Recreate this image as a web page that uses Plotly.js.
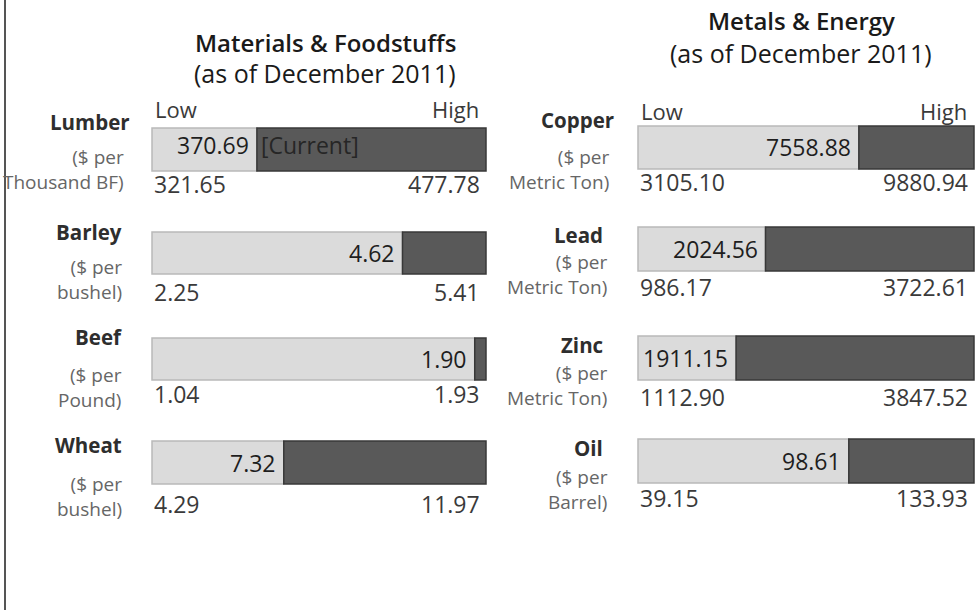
<!DOCTYPE html>
<html>
<head>
<meta charset="utf-8">
<script src="https://cdn.plot.ly/plotly-3.0.1.min.js"></script>
<style>html,body{margin:0;padding:0;background:#fff;}#chart{width:980px;height:610px;}</style>
</head>
<body>
<div id="chart"></div>
<script>
// ---------- DATA ----------
const leftTitle = 'Materials & Foodstuffs';
const rightTitle = 'Metals & Energy';
const subTitle = '(as of December 2011)';
const lowLabel = 'Low';
const highLabel = 'High';
const currentTag = '[Current]';

const leftNames = ['Lumber', 'Barley', 'Beef', 'Wheat'];
const leftUnit1 = ['($ per', '($ per', '($ per', '($ per'];
const leftUnit2 = ['Thousand BF)', 'bushel)', 'Pound)', 'bushel)'];
const leftLow = [321.65, 2.25, 1.04, 4.29];
const leftCurrent = [370.69, 4.62, 1.90, 7.32];
const leftHigh = [477.78, 5.41, 1.93, 11.97];

const rightNames = ['Copper', 'Lead', 'Zinc', 'Oil'];
const rightUnit1 = ['($ per', '($ per', '($ per', '($ per'];
const rightUnit2 = ['Metric Ton)', 'Metric Ton)', 'Metric Ton)', 'Barrel)'];
const rightLow = [3105.10, 986.17, 1112.90, 39.15];
const rightCurrent = [7558.88, 2024.56, 1911.15, 98.61];
const rightHigh = [9880.94, 3722.61, 3847.52, 133.93];

// ---------- LAYOUT CONSTANTS (pixels) ----------
const W = 980, H = 610;
const fx = p => p / W;
const fy = p => 1 - p / H;
const FONT = 'Open Sans, sans-serif';
const LIGHT = '#dbdbdb', LIGHT_LINE = '#b9b9b9';
const DARK = '#595959', DARK_LINE = '#383838';

const panels = [
  {
    names: leftNames, unit1: leftUnit1, unit2: leftUnit2,
    low: leftLow, cur: leftCurrent, high: leftHigh,
    title: leftTitle, titleX: 325, titleY: [42, 73],
    barL: 152, barR: 486,
    tops: [128, 232, 338, 441], bots: [171, 274, 380, 484],
    nameY: [122, 232, 337, 445], nameR: [132, 124, 124, 124],
    unitY: [169, 279, 387, 496], unitR: [126, 124, 124, 124],
    valY: [184, 292, 394, 504], lhY: 109, firstValShift: 5
  },
  {
    names: rightNames, unit1: rightUnit1, unit2: rightUnit2,
    low: rightLow, cur: rightCurrent, high: rightHigh,
    title: rightTitle, titleX: 801, titleY: [20, 53],
    barL: 638, barR: 974,
    tops: [126, 227, 336, 439], bots: [169, 271, 380, 483],
    nameY: [120, 235, 345, 448], nameR: [616, 605, 605, 605],
    unitY: [169, 275, 385, 489], unitR: [612, 610, 610, 610],
    valY: [182, 287, 397, 498], lhY: 111, firstValShift: 1
  }
];

const traces = [];
const layout = {
  width: W, height: H,
  margin: {l: 0, r: 0, t: 0, b: 0},
  paper_bgcolor: '#ffffff', plot_bgcolor: '#ffffff',
  showlegend: false, barmode: 'overlay', bargap: 0,
  hovermode: false,
  annotations: [],
  shapes: [{type: 'line', xref: 'paper', yref: 'paper', x0: fx(5), x1: fx(5), y0: 0, y1: 1,
            line: {color: '#555555', width: 2}}]
};

let n = 0;
const PADX = 2, PADY = 2;
panels.forEach(p => {
  // titles
  layout.annotations.push({xref: 'paper', yref: 'paper', x: fx(p.titleX), y: fy(p.titleY[0]),
    xanchor: 'center', yanchor: 'middle', showarrow: false, text: p.title,
    font: {family: FONT, size: 24, color: '#1a1a1a', weight: 600}});
  layout.annotations.push({xref: 'paper', yref: 'paper', x: fx(p.titleX), y: fy(p.titleY[1]),
    xanchor: 'center', yanchor: 'middle', showarrow: false, text: subTitle,
    font: {family: FONT, size: 25, color: '#1a1a1a'}});

  p.names.forEach((name, i) => {
    n += 1;
    const xs = n === 1 ? '' : String(n);
    const xa = 'xaxis' + xs, ya = 'yaxis' + xs;
    const xr = 'x' + xs, yr = 'y' + xs;
    const lo = p.low[i], hi = p.high[i], cu = p.cur[i];
    const span = hi - lo;
    const wpx = p.barR - p.barL;
    const hpx = p.bots[i] - p.tops[i];
    const vshift = i === 0 ? p.firstValShift : 0;
    layout[xa] = {
      domain: [fx(p.barL - PADX), fx(p.barR + PADX)],
      range: [lo - span * PADX / wpx, hi + span * PADX / wpx],
      anchor: yr, visible: false, fixedrange: true
    };
    layout[ya] = {
      domain: [fy(p.bots[i] + PADY), fy(p.tops[i] - PADY)],
      range: [-0.5 - PADY / hpx, 0.5 + PADY / hpx],
      anchor: xr, visible: false, fixedrange: true, type: 'linear'
    };
    // light part: low -> current
    traces.push({type: 'bar', orientation: 'h', xaxis: xr, yaxis: yr,
      y: [0], base: [lo], x: [cu - lo], width: 1,
      marker: {color: LIGHT, line: {color: LIGHT_LINE, width: 1.5}}, hoverinfo: 'skip'});
    // dark part: current -> high
    traces.push({type: 'bar', orientation: 'h', xaxis: xr, yaxis: yr,
      y: [0], base: [cu], x: [hi - cu], width: 1,
      marker: {color: DARK, line: {color: DARK_LINE, width: 1.5}}, hoverinfo: 'skip'});

    // current value inside bar
    layout.annotations.push({xref: xr, yref: yr, x: cu, y: 0, xanchor: 'right', yanchor: 'middle',
      xshift: -6, yshift: vshift, showarrow: false, text: cu.toFixed(2),
      font: {family: FONT, size: 23, color: '#1e1e1e'}});
    if (n === 1) {
      layout.annotations.push({xref: xr, yref: yr, x: cu, y: 0, xanchor: 'left', yanchor: 'middle',
        xshift: 2, yshift: vshift, showarrow: false, text: currentTag,
        font: {family: FONT, size: 23, color: '#262626'}});
    }
    // low / high values under bar
    layout.annotations.push({xref: xr, yref: 'paper', x: lo, y: fy(p.valY[i]), xanchor: 'left', yanchor: 'middle',
      xshift: 0, showarrow: false, text: lo.toFixed(2),
      font: {family: FONT, size: 23, color: '#3a3a3a'}});
    layout.annotations.push({xref: xr, yref: 'paper', x: hi, y: fy(p.valY[i]), xanchor: 'right', yanchor: 'middle',
      xshift: -4, showarrow: false, text: hi.toFixed(2),
      font: {family: FONT, size: 23, color: '#3a3a3a'}});
    // Low / High headers above first bar
    if (i === 0) {
      layout.annotations.push({xref: xr, yref: 'paper', x: lo, y: fy(p.lhY), xanchor: 'left', yanchor: 'middle',
        xshift: 1, showarrow: false, text: lowLabel,
        font: {family: FONT, size: 22, color: '#3a3a3a'}});
      layout.annotations.push({xref: xr, yref: 'paper', x: hi, y: fy(p.lhY), xanchor: 'right', yanchor: 'middle',
        xshift: -5, showarrow: false, text: highLabel,
        font: {family: FONT, size: 22, color: '#3a3a3a'}});
    }
    // category labels
    layout.annotations.push({xref: 'paper', yref: 'paper', x: fx(p.nameR[i]), y: fy(p.nameY[i]),
      xanchor: 'right', yanchor: 'middle', showarrow: false, text: name,
      font: {family: FONT, size: 20.5, color: '#2e2e2e', weight: 700}});
    layout.annotations.push({xref: 'paper', yref: 'paper', x: fx(p.unitR[i]), y: fy(p.unitY[i]),
      xanchor: 'right', yanchor: 'middle', align: 'right', showarrow: false,
      text: p.unit1[i] + '<br>' + p.unit2[i],
      font: {family: FONT, size: 19, color: '#666666'}});
  });
});

Plotly.newPlot('chart', traces, layout, {staticPlot: true, displayModeBar: false});
</script>
</body>
</html>
